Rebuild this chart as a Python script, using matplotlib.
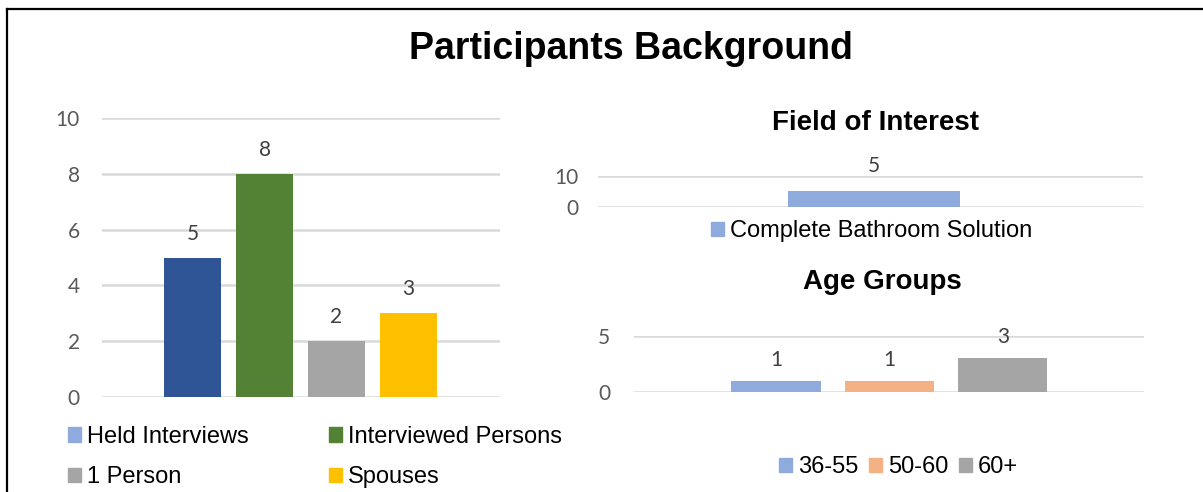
import matplotlib
matplotlib.use("Agg")
import matplotlib.pyplot as plt
from matplotlib.patches import Patch
from matplotlib.lines import Line2D

# data
bg_labels = ["Held Interviews", "Interviewed Persons", "1 Person", "Spouses"]
bg_values = [5, 8, 2, 3]
bg_colors = ["#2F5597", "#548235", "#A5A5A5", "#FFC000"]
bg_legend_colors = ["#8FAADC", "#548235", "#A5A5A5", "#FFC000"]

field_labels = ["Complete Bathroom Solution"]
field_values = [5]

age_labels = ["36-55", "50-60", "60+"]
age_values = [1, 1, 3]
age_colors = ["#8FAADC", "#F4B183", "#A5A5A5"]

W, H = 1203, 492
ARIAL = "Liberation Sans"
NUM = "Lato"
GRID = "#D9D9D9"


def rect(x0, y0, x1, y1):
    # pixel box (top-left origin) -> figure fraction
    return [x0 / W, 1 - y1 / H, (x1 - x0) / W, (y1 - y0) / H]


def style_axes(ax, ticks, pad):
    for s in ax.spines.values():
        s.set_visible(False)
    ax.set_yticks(ticks)
    ax.set_xticks([])
    ax.tick_params(axis="y", length=0, pad=pad, labelsize=15, labelcolor="#595959")
    for t in ax.get_yticklabels():
        t.set_fontfamily(NUM)
    ax.yaxis.grid(True, color=GRID, lw=1.8)
    ax.set_axisbelow(True)


def bar_labels(ax, xs, vals, off):
    for x, v in zip(xs, vals):
        ax.annotate(str(v), (x, v), xytext=(0, off), textcoords="offset points",
                    ha="center", va="bottom", fontsize=15, color="#404040",
                    fontfamily=NUM)


fig = plt.figure(figsize=(W / 100, H / 100), dpi=100)

fig.text(631 / W, 1 - 49 / H, "Participants Background", ha="center", va="center",
         fontsize=27, fontweight="bold", fontfamily=ARIAL)

# left chart
ax1 = fig.add_axes(rect(102, 118, 500, 397))
xs = list(range(len(bg_values)))
ax1.bar(xs, bg_values, width=0.79, color=bg_colors)
ax1.set_xlim(-1.257, 4.27)
ax1.set_ylim(0, 10)
style_axes(ax1, [0, 2, 4, 6, 8, 10], 16)
bar_labels(ax1, xs, bg_values, 10)

order = [0, 2, 1, 3]
handles = [Patch(color=bg_legend_colors[i]) for i in order]
fig.legend(handles, [bg_labels[i] for i in order], ncol=2, loc="center left",
           bbox_to_anchor=(68 / W, 1 - 457 / H), frameon=False,
           prop={"family": ARIAL, "size": 17}, handlelength=0.55, handleheight=0.55,
           handletextpad=0.25, columnspacing=3.4, labelspacing=0.78,
           borderpad=0, borderaxespad=0)

# field of interest
ax2 = fig.add_axes(rect(598, 176, 1143, 207))
ax2.bar([0], field_values, width=1, color="#8FAADC")
ax2.set_xlim(-1.605, 1.565)
ax2.set_ylim(0, 10)
style_axes(ax2, [0, 10], 14)
bar_labels(ax2, [0], field_values, 11)
ax2.text(0.51, 1 + 53 / 31, "Field of Interest", transform=ax2.transAxes,
         ha="center", va="center", fontsize=20, fontweight="bold", fontfamily=ARIAL)
fig.legend([Patch(color="#8FAADC")], field_labels, loc="center left",
           bbox_to_anchor=(711 / W, 1 - 231 / H), frameon=False,
           prop={"family": ARIAL, "size": 17}, handlelength=0.55, handleheight=0.55,
           handletextpad=0.25, borderpad=0, borderaxespad=0)

# age groups
ax3 = fig.add_axes(rect(634, 336, 1144, 392))
xs3 = list(range(len(age_values)))
ax3.bar(xs3, age_values, width=0.79, color=age_colors)
ax3.set_xlim(-1.255, 3.247)
ax3.set_ylim(0, 5)
style_axes(ax3, [0, 5], 17)
bar_labels(ax3, xs3, age_values, 8)
fig.text(882 / W, 1 - 282 / H, "Age Groups", ha="center", va="center",
         fontsize=20, fontweight="bold", fontfamily=ARIAL)
fig.legend([Patch(color=c) for c in age_colors], age_labels, ncol=3, loc="center left",
           bbox_to_anchor=(779 / W, 1 - 467 / H), frameon=False,
           prop={"family": ARIAL, "size": 17}, handlelength=0.55, handleheight=0.55,
           handletextpad=0.25, columnspacing=0.45, borderpad=0, borderaxespad=0)

# outer border (left and top edges)
fig.add_artist(Line2D([7 / W, 7 / W], [0, 1 - 9 / H], color="black", lw=1.6,
                      transform=fig.transFigure))
fig.add_artist(Line2D([7 / W, 1], [1 - 9 / H, 1 - 9 / H], color="black", lw=1.6,
                      transform=fig.transFigure))

fig.savefig("out.png", dpi=100)
